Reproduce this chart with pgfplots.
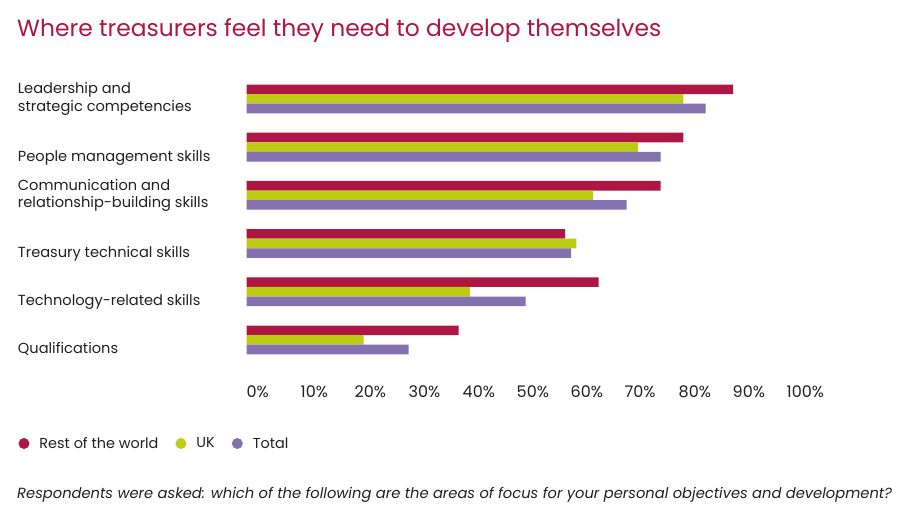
\documentclass[border=0pt]{standalone}
\usepackage{fontspec}
\setmainfont{Poppins}
\usepackage{pgfplots}
\pgfplotsset{compat=1.18}
\definecolor{row}{RGB}{174,22,68}
\definecolor{uk}{RGB}{190,204,22}
\definecolor{tot}{RGB}{132,113,176}
\definecolor{titlered}{RGB}{174,22,68}
\definecolor{txt}{RGB}{35,31,32}
\begin{document}
\begin{tikzpicture}[x=1pt,y=1pt]
\useasboundingbox (0,-521) rectangle (921,0);
\node[anchor=base west, inner sep=0pt, font=\fontsize{23.4}{28}\selectfont, text=titlered] at (17,-37) {Where treasurers feel they need to develop themselves};
\begin{axis}[
  at={(246.5pt,-364pt)}, anchor=south west,
  scale only axis, width=540pt, height=289.2pt,
  xmin=0, xmax=100, ymin=-0.5, ymax=5.5, y dir=reverse,
  xbar, bar width=9.6pt,
  axis line style={draw=none}, tick style={draw=none},
  xtick={0,10,...,100},
  xticklabel={\pgfmathprintnumber{\tick}\%},
  /pgf/number format/assume math mode=true,
  xticklabel style={anchor=base west, inner sep=0pt, yshift=-33pt, font=\fontsize{16}{19}\selectfont, text=txt},
  ytick={0,1,2,3,4,5},
  yticklabels={{Leadership and\\strategic competencies},{\raisebox{-14pt}[0pt][0pt]{People management skills}},{Communication and\\relationship-building skills},{\raisebox{-14pt}[0pt][0pt]{Treasury technical skills}},{\raisebox{-14pt}[0pt][0pt]{Technology-related skills}},{\raisebox{-14pt}[0pt][0pt]{Qualifications}}},
  yticklabel style={anchor=west, align=left, inner sep=0pt, xshift=-224.5pt, font=\fontsize{14.6}{17.5}\selectfont, text=txt},
  legend columns=-1,
  legend style={at={(axis description cs:-0.4226,-0.2749)}, anchor=west, draw=none, fill=none, inner sep=0pt, font=\fontsize{14.4}{17}\selectfont, text=txt,
    /tikz/every even column/.append style={column sep=15pt},
    /tikz/every odd column/.append style={column sep=8pt}},
]
\addplot[fill=row, draw=none, bar shift=9.6pt, legend image code/.code={\fill[row] (0pt,0pt) circle (5.5pt);}] coordinates {(90.1,0) (80.9,1) (76.7,2) (59.0,3) (65.2,4) (39.3,5)};
\addplot[fill=uk, draw=none, bar shift=0pt, legend image code/.code={\fill[uk] (0pt,0pt) circle (5.5pt);}] coordinates {(80.9,0) (72.5,1) (64.2,2) (61.1,3) (41.4,4) (21.7,5)};
\addplot[fill=tot, draw=none, bar shift=-9.6pt, legend image code/.code={\fill[tot] (0pt,0pt) circle (5.5pt);}] coordinates {(85.0,0) (76.7,1) (70.4,2) (60.1,3) (51.7,4) (30.0,5)};
\legend{Rest of the world, UK, Total}
\end{axis}
\node[anchor=base west, inner sep=0pt, font=\itshape\fontsize{14.7}{17}\selectfont, text=txt] at (17,-498) {Respondents were asked: which of the following are the areas of focus for your personal objectives and development?};
\end{tikzpicture}
\end{document}
